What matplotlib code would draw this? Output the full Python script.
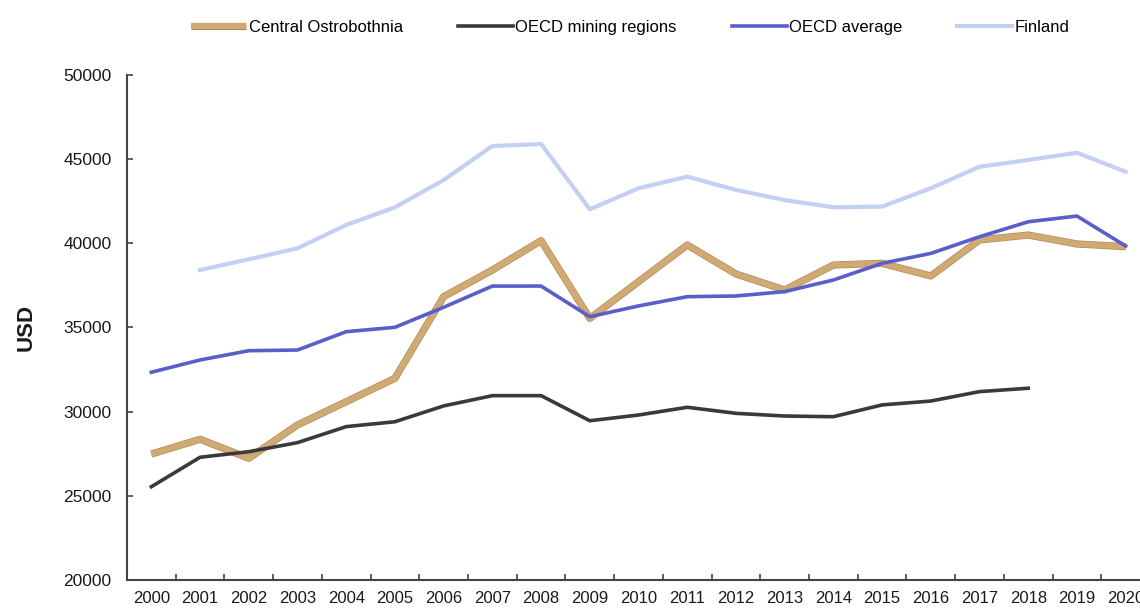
import matplotlib
matplotlib.use("Agg")
import matplotlib.pyplot as plt
import matplotlib.patheffects as pe
import numpy as np

plt.rcParams['font.family'] = ['Liberation Sans', 'DejaVu Sans']

# GDP per capita, USD
years = [str(y) for y in range(2000, 2021)]
central_ostrobothnia = [27480, 28360, 27230, 29210, 30590, 31980, 36830, 38410, 40160, 35540,
                        37720, 39900, 38180, 37230, 38710, 38810, 38060, 40200, 40490, 39960, 39800]
oecd_mining = [25540, 27290, 27620, 28160, 29110, 29400, 30340, 30950, 30950, 29460,
               29800, 30260, 29900, 29740, 29700, 30400, 30630, 31190, 31390, None, None]
oecd_average = [32340, 33070, 33620, 33660, 34750, 35010, 36200, 37460, 37460, 35640,
                36280, 36830, 36870, 37130, 37820, 38810, 39400, 40390, 41280, 41620, 39840]
finland = [None, 38414, 39050, 39700, 41090, 42140, 43760, 45780, 45900, 42020,
           43270, 43960, 43170, 42570, 42140, 42180, 43270, 44550, 44950, 45380, 44250]

def arr(vals):
    return np.array([np.nan if v is None else v for v in vals], dtype=float)

x = np.arange(len(years))

fig = plt.figure(figsize=(11.4, 6.1), dpi=100)
ax = fig.add_axes([0.1114, 0.0492, 0.8974, 0.8279])

ax.plot(x, arr(central_ostrobothnia), color='#D0AA74', lw=4.2, label='Central Ostrobothnia',
        solid_capstyle='butt',
        path_effects=[pe.Stroke(linewidth=5.2, foreground='#B48A55'), pe.Normal()])
ax.plot(x, arr(oecd_mining), color='#3a3a3a', lw=2.6, label='OECD mining regions')
ax.plot(x, arr(oecd_average), color='#5a5ec8', lw=2.6, label='OECD average')
ax.plot(x, arr(finland), color='#c4cff4', lw=3.0, label='Finland')

ax.set_xlim(-0.5, len(years) - 0.5)
ax.set_ylim(20000, 50000)
ax.set_yticks(range(20000, 50001, 5000))
ax.set_xticks(x)
ax.set_xticklabels(years)
ax.set_xticks(np.arange(0.5, len(years) - 0.5), minor=True)
ax.tick_params(axis='x', which='major', length=0, pad=8, labelsize=12, labelcolor='#1a1a1a')
ax.tick_params(axis='x', which='minor', direction='in', length=4, width=1.2, color='#444444')
ax.tick_params(axis='y', direction='in', length=4, width=1.2, color='#444444',
               labelsize=12.5, labelcolor='#1a1a1a', pad=11)

for side in ['top', 'right']:
    ax.spines[side].set_visible(False)
for side in ['left', 'bottom']:
    ax.spines[side].set_color('#444444')
    ax.spines[side].set_linewidth(1.5)

ax.set_ylabel('USD', fontsize=16, fontweight='bold', color='#1a1a1a', labelpad=19)

fig.legend(loc='center', bbox_to_anchor=(0.553, 0.955), ncol=4, frameon=False,
           fontsize=12, handlelength=3.3, handletextpad=0.15, columnspacing=3.3)

fig.savefig('out.png', dpi=100)
